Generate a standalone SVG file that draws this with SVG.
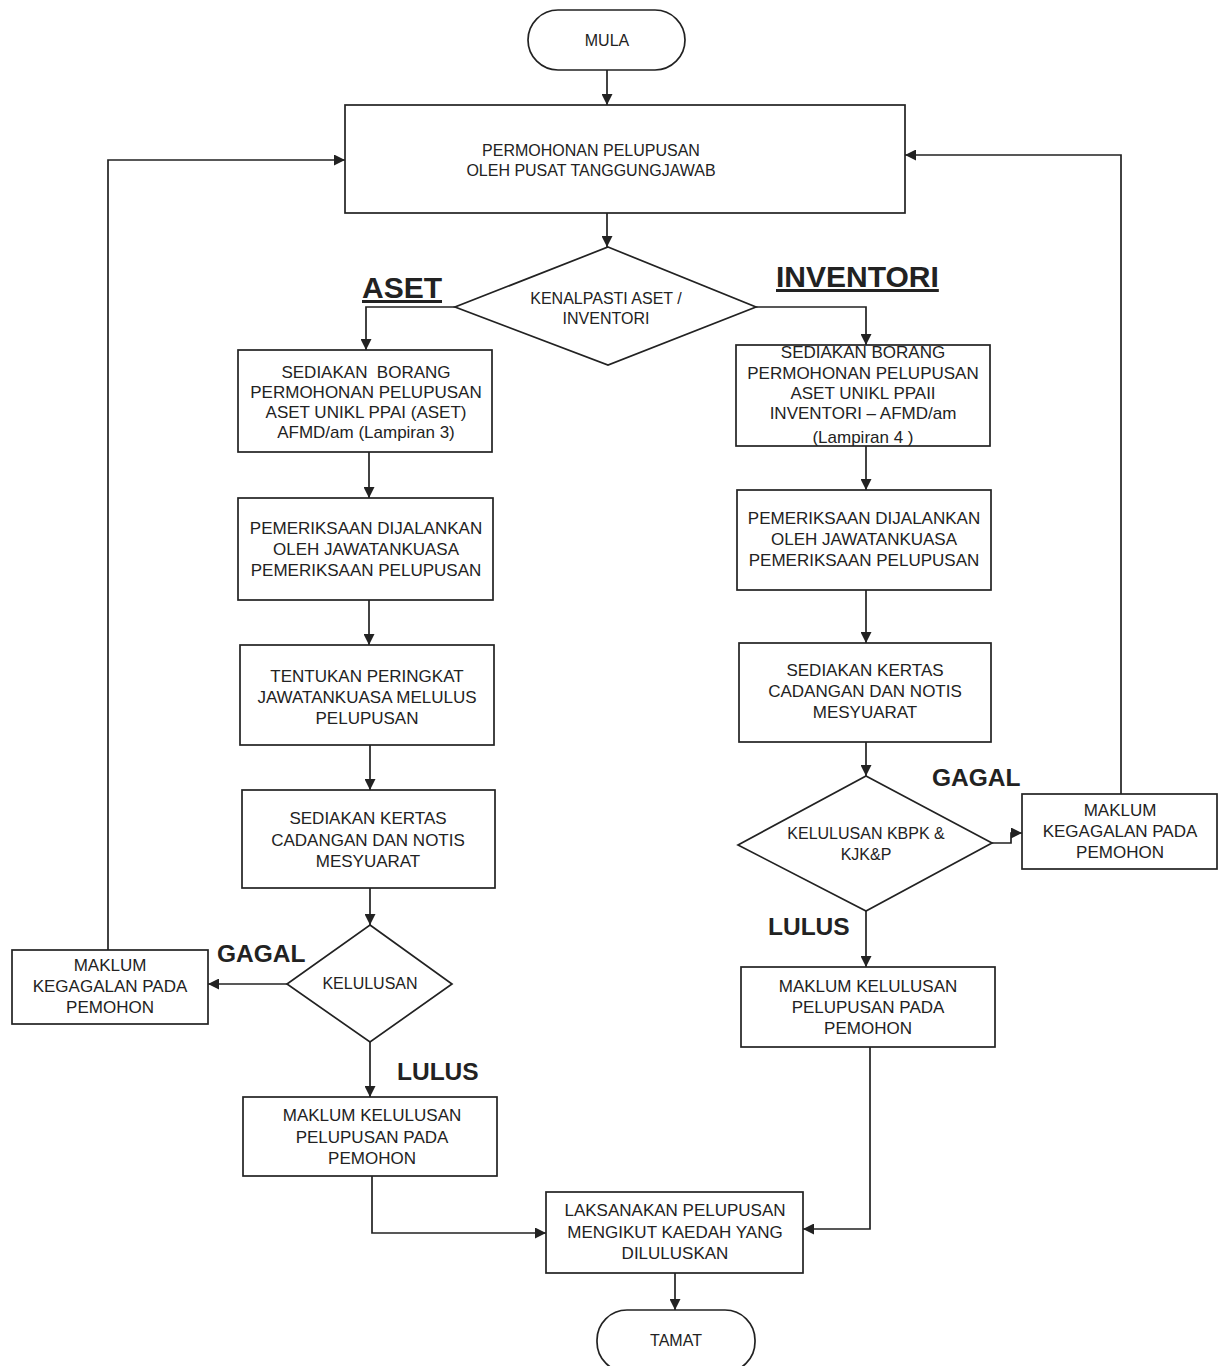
<svg xmlns="http://www.w3.org/2000/svg" width="1218" height="1366" viewBox="0 0 1218 1366">
<defs>
<marker id="ah" viewBox="0 0 10 10" refX="10" refY="5" markerWidth="11" markerHeight="11" markerUnits="userSpaceOnUse" orient="auto">
<path d="M0,0 L10,5 L0,10 Z" fill="#222"/>
</marker>
<style>
.s{fill:#fff;stroke:#222;stroke-width:1.7}
.c{fill:none;stroke:#222;stroke-width:1.7;marker-end:url(#ah)}
.t{font-family:"Liberation Sans",Arial,sans-serif;font-size:17px;fill:#222;text-anchor:middle}
.m{font-size:16px}
.b{font-family:"Liberation Sans",Arial,sans-serif;font-weight:bold;font-size:24.5px;fill:#222}
.u{font-family:"Liberation Sans",Arial,sans-serif;font-weight:bold;font-size:30px;fill:#222;text-decoration:underline}
</style>
</defs>
<rect width="1218" height="1366" fill="#fff"/>
<g id="connectors">
<path class="c" d="M607,70 V105"/>
<path class="c" d="M607,213 V247"/>
<path class="c" d="M455,307 H366 V350"/>
<path class="c" d="M756,307 H866 V345"/>
<path class="c" d="M369,452 V498"/>
<path class="c" d="M369,600 V645"/>
<path class="c" d="M370,745 V790"/>
<path class="c" d="M370,888 V925"/>
<path class="c" d="M287,984 H208"/>
<path class="c" d="M108,950 V160 H345"/>
<path class="c" d="M370,1042 V1097"/>
<path class="c" d="M372,1176 V1233 H546"/>
<path class="c" d="M866,446 V490"/>
<path class="c" d="M866,590 V643"/>
<path class="c" d="M866,742 V776"/>
<path class="c" d="M992,843 H1011 V833 H1022"/>
<path class="c" d="M1121,794 V155 H905"/>
<path class="c" d="M866,910 V967"/>
<path class="c" d="M870,1047 V1229 H803"/>
<path class="c" d="M675,1273 V1310"/>
</g>
<g id="mula"><rect class="s" x="528" y="10" width="157" height="60" rx="30"/><text class="t m" x="607" y="46">MULA</text></g>
<g id="permohonan"><rect class="s" x="345" y="105" width="560" height="108"/><text class="t m" x="591" y="156">PERMOHONAN PELUPUSAN</text><text class="t m" x="591" y="176">OLEH PUSAT TANGGUNGJAWAB</text></g>
<g id="kenalpasti"><polygon class="s" points="608,247 756,307 608,365 455,307"/><text class="t m" x="606" y="304">KENALPASTI ASET /</text><text class="t m" x="606" y="324">INVENTORI</text></g>
<text class="u" x="362" y="298">ASET</text>
<text class="u" x="776" y="287">INVENTORI</text>
<g id="a1"><rect class="s" x="238" y="350" width="254" height="102"/><text class="t" x="366" y="378" xml:space="preserve">SEDIAKAN  BORANG</text><text class="t" x="366" y="398">PERMOHONAN PELUPUSAN</text><text class="t" x="366" y="418">ASET UNIKL PPAI (ASET)</text><text class="t" x="366" y="438">AFMD/am (Lampiran 3)</text></g>
<g id="a2"><rect class="s" x="238" y="498" width="255" height="102"/><text class="t" x="366" y="534">PEMERIKSAAN DIJALANKAN</text><text class="t" x="366" y="555">OLEH JAWATANKUASA</text><text class="t" x="366" y="576">PEMERIKSAAN PELUPUSAN</text></g>
<g id="a3"><rect class="s" x="240" y="645" width="254" height="100"/><text class="t" x="367" y="682">TENTUKAN PERINGKAT</text><text class="t" x="367" y="703">JAWATANKUASA MELULUS</text><text class="t" x="367" y="724">PELUPUSAN</text></g>
<g id="a4"><rect class="s" x="242" y="790" width="253" height="98"/><text class="t" x="368" y="824">SEDIAKAN KERTAS</text><text class="t" x="368" y="846">CADANGAN DAN NOTIS</text><text class="t" x="368" y="867">MESYUARAT</text></g>
<g id="kelulusan"><polygon class="s" points="370,925 452,984 370,1042 287,984"/><text class="t m" x="370" y="989">KELULUSAN</text></g>
<text class="b" x="217" y="962">GAGAL</text>
<text class="b" x="397" y="1080">LULUS</text>
<g id="gagal-left"><rect class="s" x="12" y="950" width="196" height="74"/><text class="t" x="110" y="971">MAKLUM</text><text class="t" x="110" y="992">KEGAGALAN PADA</text><text class="t" x="110" y="1013">PEMOHON</text></g>
<g id="a5"><rect class="s" x="243" y="1097" width="254" height="79"/><text class="t" x="372" y="1121">MAKLUM KELULUSAN</text><text class="t" x="372" y="1143">PELUPUSAN PADA</text><text class="t" x="372" y="1164">PEMOHON</text></g>
<g id="r1"><rect class="s" x="736" y="345" width="254" height="101"/><text class="t" x="863" y="358">SEDIAKAN BORANG</text><text class="t" x="863" y="379">PERMOHONAN PELUPUSAN</text><text class="t" x="863" y="399">ASET UNIKL PPAII</text><text class="t" x="863" y="419">INVENTORI – AFMD/am</text><text class="t" x="863" y="443" font-size="14">(Lampiran 4 )</text></g>
<g id="r2"><rect class="s" x="737" y="490" width="254" height="100"/><text class="t" x="864" y="524">PEMERIKSAAN DIJALANKAN</text><text class="t" x="864" y="545">OLEH JAWATANKUASA</text><text class="t" x="864" y="566">PEMERIKSAAN PELUPUSAN</text></g>
<g id="r3"><rect class="s" x="739" y="643" width="252" height="99"/><text class="t" x="865" y="676">SEDIAKAN KERTAS</text><text class="t" x="865" y="697">CADANGAN DAN NOTIS</text><text class="t" x="865" y="718">MESYUARAT</text></g>
<g id="kbpk"><polygon class="s" points="866,776 992,843 866,911 738,845"/><text class="t m" x="866" y="839">KELULUSAN KBPK &amp;</text><text class="t m" x="866" y="860">KJK&amp;P</text></g>
<text class="b" x="932" y="786">GAGAL</text>
<text class="b" x="768" y="935">LULUS</text>
<g id="gagal-right"><rect class="s" x="1022" y="794" width="195" height="75"/><text class="t" x="1120" y="816">MAKLUM</text><text class="t" x="1120" y="837">KEGAGALAN PADA</text><text class="t" x="1120" y="858">PEMOHON</text></g>
<g id="r4"><rect class="s" x="741" y="967" width="254" height="80"/><text class="t" x="868" y="992">MAKLUM KELULUSAN</text><text class="t" x="868" y="1013">PELUPUSAN PADA</text><text class="t" x="868" y="1034">PEMOHON</text></g>
<g id="laksana"><rect class="s" x="546" y="1192" width="257" height="81"/><text class="t" x="675" y="1216">LAKSANAKAN PELUPUSAN</text><text class="t" x="675" y="1238">MENGIKUT KAEDAH YANG</text><text class="t" x="675" y="1259">DILULUSKAN</text></g>
<g id="tamat"><rect class="s" x="597" y="1310" width="158" height="62" rx="30"/><text class="t m" x="676" y="1346">TAMAT</text></g>
</svg>
